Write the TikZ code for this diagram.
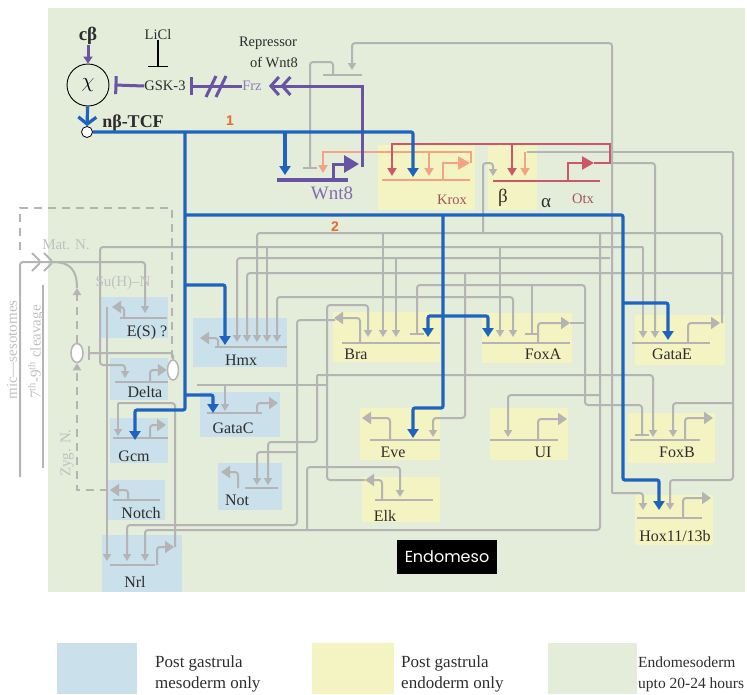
\documentclass[tikz,border=0pt]{standalone}
\usepackage{fontspec}
\setmainfont{Liberation Serif}
\setsansfont{Liberation Sans}
\newfontfamily\endofont{Poppins}
\usetikzlibrary{arrows.meta,shapes.geometric}
\definecolor{grn-bg}{RGB}{228,236,218}
\definecolor{grn-yel}{RGB}{244,244,194}
\definecolor{grn-blu}{RGB}{202,224,234}
\definecolor{grn-grey}{RGB}{180,180,180}
\definecolor{grn-lgrey}{RGB}{192,192,192}
\definecolor{grn-blue}{RGB}{30,100,190}
\definecolor{grn-purple}{RGB}{104,84,162}
\definecolor{grn-red}{RGB}{204,86,106}
\definecolor{grn-salmon}{RGB}{242,164,132}
\definecolor{grn-orange}{RGB}{236,104,40}
\definecolor{grn-text}{RGB}{45,45,45}
\definecolor{grn-mauve}{RGB}{160,84,96}

\tikzset{
  gl/.style={draw=grn-grey, line width=2pt, rounded corners=3pt},
  ga/.style={gl, -{Triangle[length=7pt,width=8pt]}},
  gaa/.style={gl, {Triangle[length=7pt,width=8pt]}-{Triangle[length=7pt,width=8pt]}},
  gbar/.style={gl, -{Bar[width=14pt]}},
  gprom/.style={gl, -{Triangle[length=9pt,width=12pt]}},
  gdash/.style={draw=grn-grey, line width=2pt, dash pattern=on 8pt off 6pt},
  bl/.style={draw=grn-blue, line width=3.2pt, rounded corners=2pt},
  ba/.style={bl, -{Triangle[length=9pt,width=11pt]}},
  baa/.style={bl, {Triangle[length=9pt,width=11pt]}-{Triangle[length=9pt,width=11pt]}},
  pl/.style={draw=grn-purple, line width=3pt},
  gene/.style={font=\fontsize{16}{18}\selectfont, text=grn-text, inner sep=0},
  small/.style={font=\fontsize{14.5}{16}\selectfont, text=grn-text, inner sep=0},
  faint/.style={font=\fontsize{15}{17}\selectfont, text=grn-lgrey, inner sep=0},
  num/.style={font=\sffamily\bfseries\fontsize{14}{16}\selectfont, text=grn-orange, inner sep=0},
  legtxt/.style={font=\fontsize{17}{19}\selectfont, text=grn-text, inner sep=0, anchor=base west}
}

\begin{document}
\begin{tikzpicture}[x=1pt,y=-1pt]
\useasboundingbox (0,0) rectangle (747,694);
\fill[grn-bg] (48,8) rectangle (745,592);

% endoderm boxes
\fill[grn-yel] (378,145) rectangle (475,210);
\fill[grn-yel] (488,145) rectangle (537,210);
\fill[grn-yel] (333,312) rectangle (440,362);
\fill[grn-yel] (482,313) rectangle (572,363);
\fill[grn-yel] (635,315) rectangle (725,365);
\fill[grn-yel] (360,408) rectangle (440,460);
\fill[grn-yel] (490,408) rectangle (568,460);
\fill[grn-yel] (362,477) rectangle (440,522);
\fill[grn-yel] (628,413) rectangle (715,463);
\fill[grn-yel] (635,495) rectangle (713,545);
% mesoderm boxes
\fill[grn-blu] (100,297) rectangle (168,338);
\fill[grn-blu] (110,358) rectangle (168,400);
\fill[grn-blu] (110,418) rectangle (168,463);
\fill[grn-blu] (107,480) rectangle (165,520);
\fill[grn-blu] (102,535) rectangle (182,592);
\fill[grn-blu] (193,318) rectangle (287,367);
\fill[grn-blu] (200,392) rectangle (280,437);
\fill[grn-blu] (218,463) rectangle (282,510);

% maternal / notch part
\draw[gdash] (20,250) -- (20,208) -- (172,208) -- (172,360);
\node[ellipse, draw=grn-grey, line width=1.5pt, fill=white, minimum width=12pt, minimum height=19pt, inner sep=0] (zygdot) at (77,353) {};
\node[ellipse, draw=grn-grey, line width=1.5pt, fill=white, minimum width=11pt, minimum height=20pt, inner sep=0] (deltadot) at (173,370) {};
\draw[ga] (20,477) -- (20,262) -- (145,262) -- (145,313);
\draw[gl] (32,253) -- (41,262) -- (32,271);
\draw[gl] (44,253) -- (53,262) -- (44,271);
\draw[gl] (43,285) -- (43,468);
\draw[gl] (53,262) .. controls (70,262) and (77,270) .. (77,288);
\draw[gdash, -{Triangle[length=7pt,width=8pt]}] (108,490) -- (77,490) -- (zygdot.south);
\draw[gdash, -{Triangle[length=7pt,width=8pt]}] (zygdot.north) -- (77,288);
\draw[gbar] (deltadot.north) |- ([xshift=4pt]zygdot.east);

% grey wiring
\draw[ga] (612,493) -- (612,43) -- (352,43) -- (352,70);
\draw[ga] (612,493) -- (643,493) -- (643,510);
\draw[gl] (323,75) -- (362,75);
\draw[gbar] (333,75) -- (333,62) -- (310,62) -- (310,169);
\draw[gl] (527,152) -- (733,152);
\draw[ga] (733,152) -- (733,480) -- (670,480) -- (670,510);
\draw[ga] (733,403) -- (673,403) -- (673,437);
\draw[ga] (610,163) -- (655,163) -- (655,338);
\draw[ga] (483,233) -- (483,163) -- (493,163) -- (493,176);
\draw[ga] (722,323) -- (722,233) -- (257,233) -- (257,342);
\draw[ga] (383,233) -- (383,337);
\draw[ga] (643,247) -- (100,247) -- (100,365) -- (125,365) -- (125,378);
\draw[ga] (643,247) -- (643,338);
\draw[ga] (267,247) -- (267,342);
\draw[ga] (500,247) -- (500,337);
\draw[ga] (610,258) -- (237,258) -- (237,342);
\draw[ga] (396,258) -- (396,337);
\draw[ga] (733,273) -- (247,273) -- (247,342);
\draw[ga] (465,273) -- (465,418) -- (433,418) -- (433,437);
\draw[gaa] (513,337) -- (513,297) -- (277,297) -- (277,342);
\draw[gl] (570,323) -- (585,323);
\draw[gbar] (585,323) -- (585,285) -- (417,285) -- (417,335);
\draw[gbar] (532,285) -- (532,335);
\draw[gbar] (585,323) -- (585,405) -- (642,405) -- (642,436);
\draw[gl] (197,385) -- (327,385);
\draw[ga] (225,385) -- (225,411);
\draw[ga] (327,385) -- (327,305) -- (368,305) -- (368,337);
\draw[gl] (365,480) -- (327,480) -- (327,385);
\draw[ga] (335,320) -- (297,320) -- (297,525) -- (127,525) -- (127,561);
\draw[ga] (297,452) -- (257,452) -- (257,485);
\draw[ga] (317,375) -- (317,442) -- (268,442) -- (268,485);
\draw[ga] (317,375) -- (653,375) -- (653,437);
\draw[ga] (307,530) -- (307,467) -- (400,467) -- (400,497);
\draw[ga] (600,233) -- (600,530) -- (145,530) -- (145,561);
\draw[ga] (600,395) -- (508,395) -- (508,437);
\draw[ga] (107,307) -- (107,561);
\draw[gl] (118,403) -- (175,403) -- (175,547);
\draw[ga] (118,403) -- (118,436);

% gene lines and promoters
\foreach \xa/\xb/\yy in {120/167/318, 115/168/382, 113/168/438, 113/160/500, 110/155/565,
  215/287/347, 207/262/413, 245/278/488, 342/440/343, 482/570/343, 632/710/343,
  370/440/440, 490/558/440, 375/433/500, 630/700/440, 637/702/518}
  \draw[gl] (\xa,\yy) -- (\xb,\yy);
\draw[gprom] (124,318) |- (112,307);
\draw[gprom] (150,382) |- (deltadot.west);
\draw[gprom] (150,438) |- (166,425);
\draw[gprom] (128,500) |- (110,490);
\draw[gprom] (157,565) |- (174,547);
\draw[gprom] (218,347) |- (200,338);
\draw[gprom] (257,413) |- (278,403);
\draw[gprom] (238,488) |- (221,472);
\draw[gprom] (360,343) |- (334,318);
\draw[gprom] (538,343) |- (570,323);
\draw[gprom] (688,343) |- (720,323);
\draw[gprom] (390,440) |- (362,418);
\draw[gprom] (538,440) |- (567,419);
\draw[gprom] (382,500) |- (365,480);
\draw[gprom] (685,440) |- (713,418);
\draw[gprom] (683,518) |- (711,498);

% Krox, beta, Otx
\draw[draw=grn-salmon, line width=2.5pt] (382,180) -- (470,180);
\draw[draw=grn-red, line width=2.5pt] (493,181) -- (600,181);
\draw[draw=grn-salmon, line width=2.5pt, -{Triangle[length=12pt,width=13pt]}] (443,180) |- (470,163);
\draw[draw=grn-red, line width=2.5pt, -{Triangle[length=12pt,width=13pt]}] (568,181) |- (594,163);
\draw[draw=grn-salmon, line width=2.2pt, -{Triangle[length=8pt,width=9pt]}] (471,163) -- (471,152) -- (323,152) -- (323,173);
\draw[draw=grn-salmon, line width=2.2pt, -{Triangle[length=8pt,width=9pt]}] (429,152) -- (429,176);
\draw[draw=grn-salmon, line width=2.2pt, -{Triangle[length=8pt,width=9pt]}] (525,152) -- (525,176);
\draw[draw=grn-red, line width=2.2pt, -{Triangle[length=8pt,width=9pt]}] (594,163) -- (610,163) -- (610,144) -- (392,144) -- (392,176);
\draw[draw=grn-red, line width=2.2pt, -{Triangle[length=8pt,width=9pt]}] (512,144) -- (512,176);

% Wnt8 and the top cluster
\node[circle, draw=black, line width=0.9pt, minimum size=42pt, inner sep=0, font=\fontsize{22}{24}\selectfont] (chi) at (88,85) {$\chi$};
\node[font=\bfseries\fontsize{19}{21}\selectfont, text=grn-text, inner sep=0] (cb) at (88,36) {cβ};
\node[circle, draw=black, line width=0.8pt, fill=white, minimum size=11pt, inner sep=0] (tcfdot) at (87,132) {};
\node[font=\bfseries\fontsize{18}{20}\selectfont, text=grn-text, inner sep=0] (tcf) at (133,123) {nβ-TCF};
\node[small] (licl) at (158,35) {LiCl};
\node[small] (gsk) at (165,86) {GSK-3};
\node[small, text=grn-purple!75] (frz) at (252,86) {Frz};
\node[small] (rep1) at (268,43) {Repressor};
\node[small] (rep2) at (274,63) {of Wnt8};
\draw[pl, -{Triangle[length=7pt,width=9pt]}] (cb) -- (chi);
\draw[draw=grn-blue, line width=3.2pt, -{Straight Barb[length=7pt,width=18pt]}] (chi) -- (tcfdot);
\draw[line width=1.4pt, -{Bar[width=20pt]}] (licl) -- (158,67);
\draw[pl, -{Bar[width=18pt]}] (gsk.west) -- ([xshift=5pt]chi.east);
\draw[pl, -{Bar[width=18pt]}] (frz.west) -- ([xshift=4pt]gsk.east);
\draw[pl] (206,97) -- (216,76);
\draw[pl] (216,97) -- (226,76);
\draw[pl, -{Straight Barb[length=8pt,width=18pt] Straight Barb[length=8pt,width=18pt]}] (362,167) -- (362,86) -- ([xshift=7pt]frz.east);
\draw[pl, line width=3.5pt] (277,180) -- (348,180);
\draw[pl, -{Triangle[length=15pt,width=17pt]}] (333,180) |- (359,164);

% blue inputs
\draw[ba] (tcfdot.east) -- (413,132) -- (413,177);
\draw[ba] (285,132) -- (285,175);
\draw[ba] (185,132) -- (185,410) -- (135,410) -- (135,440);
\draw[ba] (185,215) -- (623,215) -- (623,480) -- (659,480) -- (659,510);
\draw[ba] (185,285) -- (225,285) -- (225,345);
\draw[ba] (185,395) -- (213,395) -- (213,413);
\draw[ba] (623,303) -- (668,303) -- (668,340);
\draw[ba] (443,215) -- (443,408) -- (413,408) -- (413,438);
\draw[baa] (428,337) -- (428,316) -- (488,316) -- (488,337);
\node[num] (one) at (230,121) {1};
\node[num] (two) at (335,227) {2};

% labels
\node[gene, text=grn-purple!85, font=\fontsize{19}{21}\selectfont] (wnt8) at (332,193) {Wnt8};
\node[small, text=grn-mauve] (krox) at (452,200) {Krox};
\node[gene, font=\fontsize{19}{21}\selectfont] (beta) at (503,198) {β};
\node[gene, font=\fontsize{19}{21}\selectfont] (alpha) at (546,203) {α};
\node[small, text=grn-mauve] (otx) at (583,199) {Otx};
\node[gene] (es) at (147,333) {E(S) ?};
\node[gene] (delta) at (145,392) {Delta};
\node[gene] (gcm) at (134,456) {Gcm};
\node[gene] (notch) at (141,513) {Notch};
\node[gene] (nrl) at (135,582) {Nrl};
\node[gene] (hmx) at (241,360) {Hmx};
\node[gene] (gatac) at (233,428) {GataC};
\node[gene] (nott) at (237,500) {Not};
\node[gene] (bra) at (356,354) {Bra};
\node[gene] (foxa) at (543,354) {FoxA};
\node[gene] (gatae) at (672,354) {GataE};
\node[gene] (eve) at (393,452) {Eve};
\node[gene] (ui) at (543,452) {UI};
\node[gene] (elk) at (385,516) {Elk};
\node[gene] (foxb) at (677,452) {FoxB};
\node[gene] (hox) at (675,536) {Hox11/13b};
\node[faint] (matn) at (66,245) {Mat. N.};
\node[faint] (suhn) at (123,283) {Su(H)–N};
\node[faint, rotate=90] (zygn) at (67,453) {Zyg. N.};
\node[faint, rotate=90] (mic) at (12,350) {mic—sesotomes};
\node[faint, rotate=90] (cleav) at (36,352) {7\textsuperscript{th}-9\textsuperscript{th} cleavage};
\node[fill=black, text=white, minimum width=100pt, minimum height=34pt, inner sep=0, font=\endofont\fontsize{16}{18}\selectfont] (endo) at (447,557) {Endomeso};

% legend
\fill[grn-blu] (57,643) rectangle (137,694);
\fill[grn-yel] (312,643) rectangle (394,694);
\fill[grn-bg] (548,643) rectangle (637,694);
\node[legtxt] (legm1) at (155,667) {Post gastrula};
\node[legtxt] (legm2) at (155,688) {mesoderm only};
\node[legtxt] (lege1) at (401,667) {Post gastrula};
\node[legtxt] (lege2) at (401,688) {endoderm only};
\node[legtxt, font=\fontsize{15.5}{18}\selectfont] (legg1) at (638,667) {Endomesoderm};
\node[legtxt, font=\fontsize{15.5}{18}\selectfont] (legg2) at (638,688) {upto 20-24 hours};
\end{tikzpicture}
\end{document}
